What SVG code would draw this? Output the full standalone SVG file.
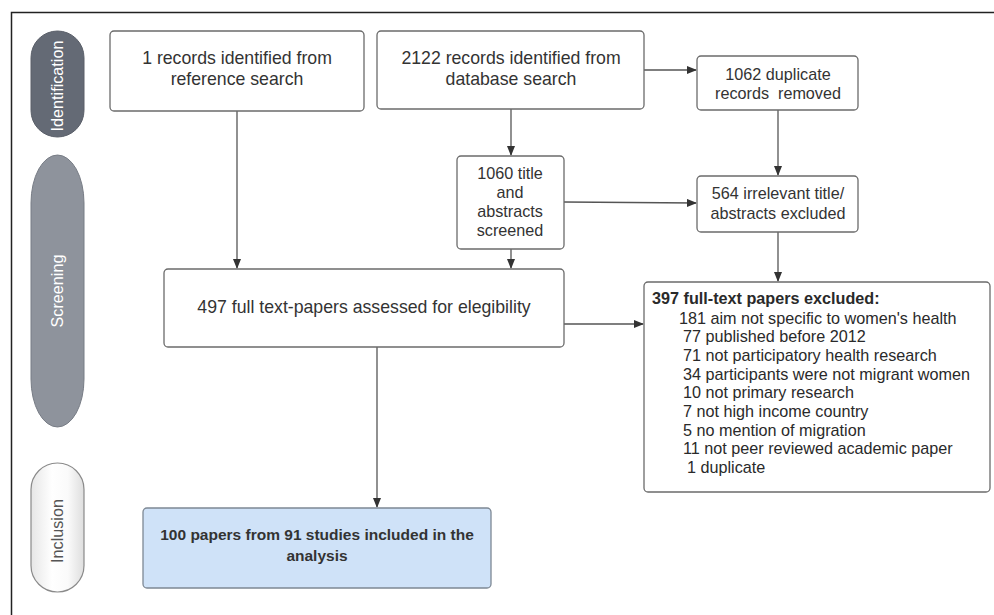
<svg xmlns="http://www.w3.org/2000/svg" width="994" height="615" viewBox="0 0 994 615">
<style>
.box{fill:#fff;stroke:#6b6b6b;stroke-width:1.3}
.t{font-family:"Liberation Sans",Arial,sans-serif;fill:#333;text-anchor:middle}
.l{font-size:17.7px}
.s{font-size:16.2px}
.lst{font-family:"Liberation Sans",Arial,sans-serif;fill:#2a2a2a;font-size:16.2px}
.c{stroke:#555;stroke-width:1.3;fill:none;marker-end:url(#ah)}
.ph{font-family:"Liberation Sans",Arial,sans-serif;font-size:16.2px;text-anchor:middle}
</style>
<defs>
<marker id="ah" markerWidth="10" markerHeight="8" refX="9" refY="4" orient="auto" markerUnits="userSpaceOnUse">
<path d="M0,0 L10,4 L0,8 Z" fill="#333"/>
</marker>
<linearGradient id="incg" x1="0" y1="0" x2="1" y2="0">
<stop offset="0" stop-color="#e6e6e6"/>
<stop offset="0.4" stop-color="#ffffff"/>
<stop offset="0.7" stop-color="#fafafa"/>
<stop offset="1" stop-color="#dedede"/>
</linearGradient>
</defs>
<rect width="994" height="615" fill="#fff"/>
<path d="M11.5,615 L11.5,12.5 L994,12.5" fill="none" stroke="#222" stroke-width="1.5"/>

<g id="phase-identification">
<rect x="31" y="31" width="53" height="106" rx="26.5" fill="#646a75" stroke="#5a5f69" stroke-width="1"/>
<text class="ph" fill="#fff" transform="translate(63,86) rotate(-90)">Identification</text>
</g>
<g id="phase-screening">
<path d="M31,203 A26.5,48 0 0 1 84,203 L84,379 A26.5,48 0 0 1 31,379 Z" fill="#8e939c" stroke="#777c85" stroke-width="1"/>
<text class="ph" fill="#fff" transform="translate(63,291) rotate(-90)">Screening</text>
</g>
<g id="phase-inclusion">
<rect x="31" y="463" width="53" height="129" rx="26.5" fill="url(#incg)" stroke="#8a8a8a" stroke-width="1.2"/>
<text class="ph" fill="#555" transform="translate(63,531) rotate(-90)">Inclusion</text>
</g>

<g id="connectors">
<line class="c" x1="237" y1="111" x2="237" y2="268"/>
<line class="c" x1="644" y1="70" x2="696" y2="70"/>
<line class="c" x1="511" y1="109" x2="511" y2="155"/>
<line class="c" x1="778" y1="110" x2="778" y2="175"/>
<line class="c" x1="564" y1="202" x2="696" y2="203"/>
<line class="c" x1="511" y1="249" x2="511" y2="268"/>
<line class="c" x1="778" y1="232" x2="778" y2="281"/>
<line class="c" x1="564" y1="324" x2="643" y2="324"/>
<line class="c" x1="377" y1="347" x2="377" y2="507"/>
</g>

<g id="n-reference">
<rect class="box" x="110" y="31" width="254" height="80" rx="4"/>
<text class="t l" x="237" y="64">1 records identified from</text>
<text class="t l" x="237" y="85">reference search</text>
</g>
<g id="n-database">
<rect class="box" x="377" y="31" width="267" height="78" rx="4"/>
<text class="t l" x="511" y="64">2122 records identified from</text>
<text class="t l" x="511" y="85">database search</text>
</g>
<g id="n-duplicates">
<rect class="box" x="697" y="56" width="161" height="54" rx="4"/>
<text class="t s" x="778" y="80">1062 duplicate</text>
<text class="t s" x="778" y="99" xml:space="preserve">records  removed</text>
</g>
<g id="n-screened">
<rect class="box" x="457" y="156" width="107" height="93" rx="4"/>
<text class="t s" x="510" y="179">1060 title</text>
<text class="t s" x="510" y="198">and</text>
<text class="t s" x="510" y="217">abstracts</text>
<text class="t s" x="510" y="236">screened</text>
</g>
<g id="n-irrelevant">
<rect class="box" x="697" y="176" width="161" height="56" rx="4"/>
<text class="t s" x="778" y="199">564 irrelevant title/</text>
<text class="t s" x="778" y="219">abstracts excluded</text>
</g>
<g id="n-fulltext">
<rect class="box" x="164" y="269" width="400" height="78" rx="4"/>
<text class="t l" x="364" y="313">497 full text-papers assessed for elegibility</text>
</g>
<g id="n-excluded">
<rect class="box" x="644" y="282" width="346" height="210" rx="4"/>
<text class="lst" x="652" y="304" font-weight="bold">397 full-text papers excluded:</text>
<text class="lst" x="679" y="324">181 aim not specific to women's health</text>
<text class="lst" x="683" y="342">77 published before 2012</text>
<text class="lst" x="683" y="361">71 not participatory health research</text>
<text class="lst" x="683" y="380">34 participants were not migrant women</text>
<text class="lst" x="683" y="398">10 not primary research</text>
<text class="lst" x="683" y="417">7 not high income country</text>
<text class="lst" x="683" y="436">5 no mention of migration</text>
<text class="lst" x="683" y="454">11 not peer reviewed academic paper</text>
<text class="lst" x="687" y="473">1 duplicate</text>
</g>
<g id="n-included">
<rect x="143" y="508" width="348" height="80" rx="4" fill="#cfe2f8" stroke="#7d8894" stroke-width="1.3"/>
<text class="t" x="317" y="540" font-size="15.5" font-weight="bold" fill="#2b3440">100 papers from 91 studies included in the</text>
<text class="t" x="317" y="561" font-size="15.5" font-weight="bold" fill="#2b3440">analysis</text>
</g>
</svg>
